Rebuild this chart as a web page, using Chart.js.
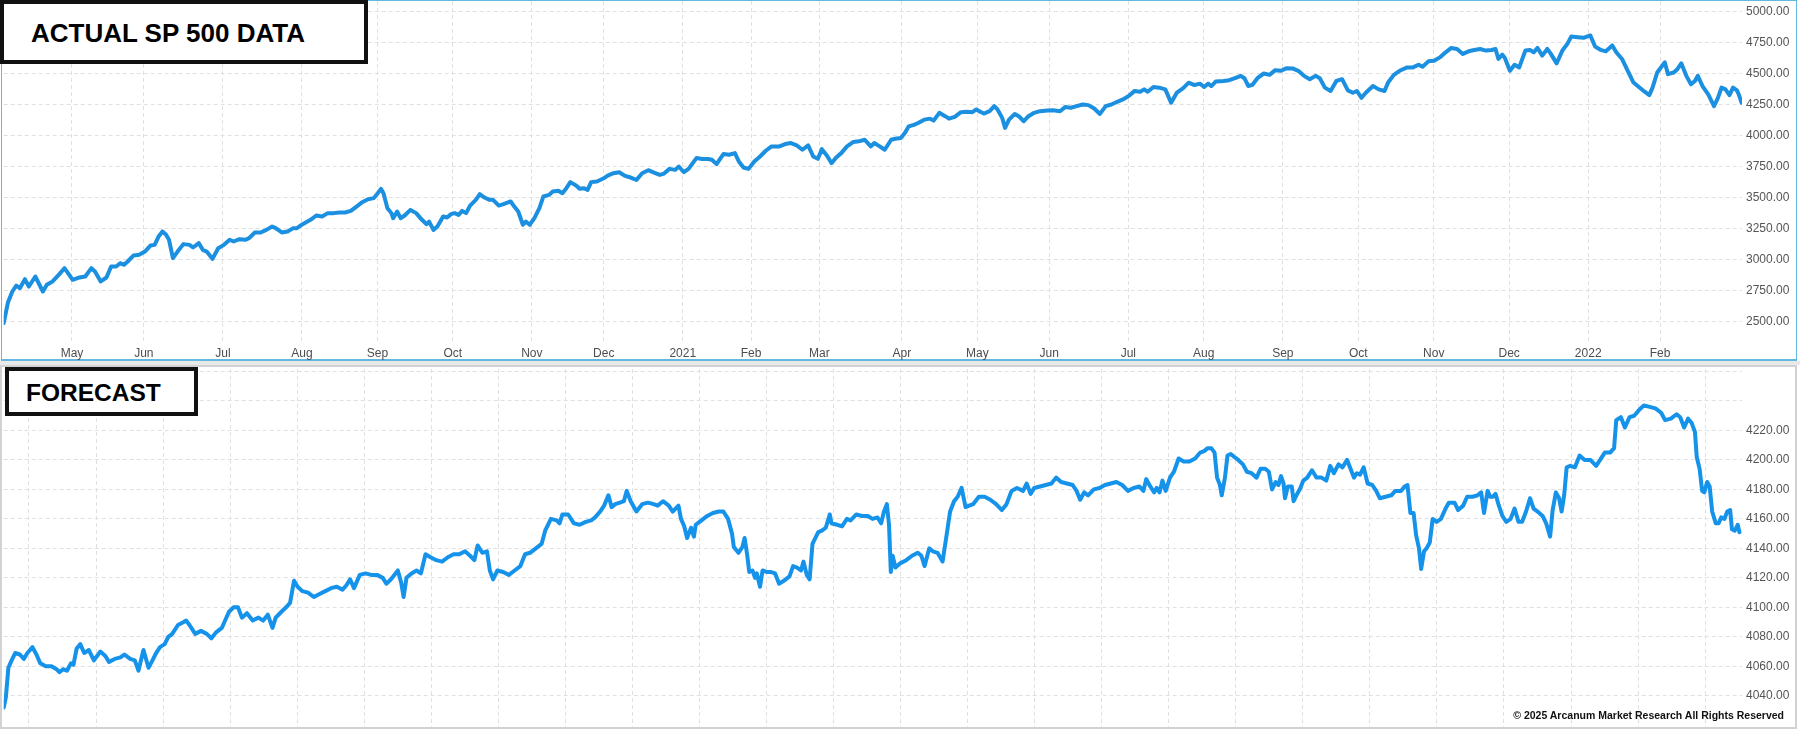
<!DOCTYPE html>
<html>
<head>
<meta charset="utf-8">
<script src="https://cdn.jsdelivr.net/npm/chart.js@4.4.1/dist/chart.umd.min.js"></script>
<style>
html,body{margin:0;padding:0;background:#fff;}
#wrap{position:relative;width:1800px;height:733px;overflow:hidden;background:#fff;font-family:"Liberation Sans",Arial,sans-serif;}
.frameTop{position:absolute;left:1px;top:0;width:1796px;height:361px;box-sizing:border-box;border:1.5px solid #62b8e0;border-bottom-width:2px;}
.gap{position:absolute;left:0;top:361px;width:1800px;height:4px;background:#e9e9e9;}
.frameBot{position:absolute;left:0;top:365px;width:1797px;height:364px;box-sizing:border-box;border:2px solid #d2d2d2;}
canvas{position:absolute;left:0;}
#cTop{top:0;}
#cBot{top:367px;}
.box{position:absolute;box-sizing:border-box;border:4px solid #111;background:#fff;}
.box span{position:absolute;font-weight:bold;color:#000;white-space:nowrap;line-height:1;}
#copy{position:absolute;right:16px;top:710px;font-weight:bold;font-size:10.5px;line-height:1;color:#111;white-space:nowrap;}
</style>
</head>
<body>
<div id="wrap">
  <div class="frameTop"></div>
  <div class="gap"></div>
  <div class="frameBot"></div>
  <canvas id="cTop" width="1800" height="360"></canvas>
  <canvas id="cBot" width="1800" height="362"></canvas>
  <div class="box" style="left:0;top:0;width:368px;height:64px;"><span style="left:27px;top:16px;font-size:26px;">ACTUAL SP 500 DATA</span></div>
  <div class="box" style="left:4.5px;top:366.5px;width:193px;height:49px;"><span style="left:17.5px;top:10.5px;font-size:24.5px;">FORECAST</span></div>
  <div id="copy">© 2025 Arcanum Market Research All Rights Reserved</div>
</div>
<script>
// ---------- DATA ----------
// x = trading-day index (0 = first bar of the chart)
const monthTickDays = [19,39,61,83,104,125,147,167,189,208,227,250,271,291,313,334,356,377,398,419,441,461];
const monthLabels = ['May','Jun','Jul','Aug','Sep','Oct','Nov','Dec','2021','Feb','Mar','Apr','May','Jun','Jul','Aug','Sep','Oct','Nov','Dec','2022','Feb'];
const actualYTicks = [2500,2750,3000,3250,3500,3750,4000,4250,4500,4750,5000];
const forecastYTicks = [4040,4060,4080,4100,4120,4140,4160,4180,4200,4220,4240,4260];

const actualDays = [
0,1.2,2.4,3.5,4.5,5.9,7.0,8.8,10.9,12.0,
13.6,15.3,16.9,17.9,19.2,21.1,22.7,24.4,25.4,27.0,
28.6,29.9,31.3,32.4,33.5,34.5,36.1,37.7,39.3,40.9,
42.0,43.1,44.2,45.2,46.0,47.1,48.4,50.0,51.7,52.7,
54.3,55.4,56.5,58.1,59.7,61.3,62.9,64.0,65.6,67.2,
68.3,69.9,71.5,73.1,74.7,75.7,77.4,79.0,80.6,81.6,
83.2,85.4,87.0,88.6,90.2,91.8,93.4,95.0,96.6,98.2,
99.8,101.4,103.0,104.1,105.0,105.7,106.8,107.9,108.4,109.5,
110.5,111.6,113.2,114.8,116.4,117.7,118.4,119.6,120.7,122.3,
123.4,124.5,125.5,126.6,127.6,128.7,129.8,131.4,132.5,133.8,
135.2,136.2,137.8,139.1,141.1,142.1,143.2,144.5,145.3,146.4,
147.7,149.1,150.2,151.8,152.8,154.4,155.5,156.6,157.7,159.3,
160.3,161.4,162.5,163.5,165.1,
167,168.1,169.7,171.3,172.9,174.5,176.1,177.7,179.4,181.0,
182.6,183.6,185.3,186.9,187.9,189.3,190.6,192.8,194.4,196.0,
197.1,198.4,200.3,201.9,203.5,204.6,205.9,207.3,208.9,210.5,
212.1,213.7,215.9,217.5,219.1,220.7,222.3,223.9,225.3,226.6,
227.7,229.1,230.4,231.7,233.1,234.7,236.4,238.0,239.6,241.3,
242.3,243.8,245.2,247.0,248.1,249.7,250.8,251.9,253.5,254.5,
256.2,257.8,258.8,260.4,262.0,263.1,264.7,266.4,268.0,269.6,
270.7,271.8,272.8,274.4,275.7,276.6,277.9,278.7,279.8,281.4,
282.5,283.9,285.2,286.8,288.4,290.5,292.1,294.0,295.4,297.0,
298.6,300.3,301.9,303.5,305.1,306.7,308.3,309.9,311.5,313.1,
314.7,316.3,317.4,318.4,320.0,321.6,323.3,324.9,326.5,328.2,
329.8,331.4,333.0,
334.1,335.2,336.1,337.3,339.5,341.1,342.7,344.3,345.3,346.4,
347.5,349.1,350.7,352.3,353.9,355.5,357.1,358.7,360.3,361.9,
363.5,365.1,366.3,367.7,369.3,370.9,372.5,374.1,375.5,376.6,
377.9,379.1,381.1,382.7,384.3,385.3,386.9,388.5,390.6,392.2,
393.8,394.9,396.5,398.1,399.7,401.3,402.9,404.5,406.1,407.7,
409.3,410.9,412.5,414.1,415.2,416.0,417.1,417.8,419.2,420.5,
421.8,423.5,424.8,425.8,426.9,428.2,429.6,430.6,432.2,433.8,
435.2,436.3,438.1,439.7,440.8,441.6,442.9,444.5,445.9,447.7,
448.8,450.4,452.0,453.6,455.1,456.7,458.0,458.9,460.2,461.6,
462.3,463.2,464.8,465.8,466.9,468.3,469.6,470.7,471.5,472.8,
474.4,476.0,477.1,478.1,479.2,480.3,481.3,482.4,482.9,483.7
];
const actualValues = [
2488,2656,2742,2790,2769,2841,2782,2863,2742,2796,
2823,2876,2930,2890,2836,2855,2863,2930,2903,2823,
2855,2944,2944,2970,2957,2984,3032,3038,3064,3113,
3118,3185,3226,3199,3159,3011,3064,3124,3118,3097,
3132,3078,3064,3005,3091,3118,3159,3145,3164,3159,
3172,3218,3218,3239,3266,3253,3218,3226,3253,3253,
3285,3320,3355,3347,3374,3374,3379,3379,3392,3427,
3462,3486,3495,3535,3570,3535,3414,3374,3333,3387,
3333,3355,3400,3374,3320,3285,3306,3239,3266,3347,
3339,3366,3374,3360,3392,3374,3435,3481,3527,3500,
3481,3481,3435,3446,3468,3427,3387,3280,3306,3280,
3333,3414,3508,3521,3548,3554,3535,3575,3624,3597,
3570,3575,3562,3624,3629,
3655,3677,3696,3704,3674,3661,3642,3696,3720,3701,
3682,3690,3731,3723,3750,3704,3731,3818,3810,3810,
3804,3769,3850,3845,3858,3791,3742,3731,3791,3831,
3877,3912,3912,3931,3939,3920,3885,3920,3831,3812,
3890,3839,3777,3823,3858,3912,3947,3953,3966,3912,
3939,3912,3885,3966,3974,3980,4020,4074,4088,4101,
4128,4136,4120,4183,4156,4136,4150,4188,4191,4188,
4210,4191,4177,4196,4237,4210,4142,4061,4128,4174,
4156,4115,4156,4183,4196,4201,4204,4196,4229,4224,
4237,4250,4245,4218,4174,4237,4250,4272,4291,4318,
4358,4353,4372,4353,4391,4386,4372,4264,4345,4380,
4426,4407,4418,
4391,4418,4399,4435,4440,4446,4462,4481,4462,4399,
4408,4467,4500,4489,4527,4522,4543,4541,4522,4481,
4454,4481,4462,4386,4359,4440,4454,4364,4345,4359,
4304,4345,4399,4372,4359,4427,4489,4522,4549,4549,
4571,4554,4598,4603,4630,4671,4706,4698,4658,4679,
4690,4698,4685,4690,4698,4617,4652,4625,4522,4571,
4549,4685,4690,4671,4706,4644,4698,4658,4582,4685,
4739,4799,4793,4788,4799,4807,4717,4690,4679,4726,
4671,4617,4522,4427,4391,4353,4326,4386,4508,4562,
4590,4495,4508,4535,4582,4481,4413,4440,4481,4399,
4331,4236,4304,4386,4372,4326,4386,4364,4331,4264
];

const forecastDays = [
0,0.6,1.3,2.2,3.2,4.5,5.6,6.6,8.0,9.1,
10.2,11.7,13.3,14.7,15.5,16.5,17.6,18.7,19.4,20.3,
21.3,22.4,23.7,25.1,26.9,28.3,29.3,30.9,32.5,33.6,
35.2,36.5,37.5,38.9,40.3,41.4,42.4,43.5,44.8,45.8,
46.9,48.5,50.1,50.8,51.7,53.3,54.9,56.5,57.8,59.1,
60.7,62.7,64.0,65.2,66.3,67.7,69.3,70.9,72.2,73.5,
74.8,75.7,77.3,78.6,79.7,80.8,81.8,83.1,84.7,86.3,
87.9,89.5,91.1,92.7,94.3,95.4,96.4,97.5,99.1,100.7,
102.3,103.9,105.5,106.5,107.8,109.7,110.6,111.3,112.1,113.5,
114.9,116.1,117.4,118.8,120.4,122.0,123.6,125.2,126.8,128.4,
129.8,131.0,131.9,133.2,134.5,135.3,136.2,137.4,139.0,140.6,
142.2,143.8,145.1,146.5,148.1,149.7,150.7,152.3,153.9,154.7,
155.5,157.1,158.7,160.3,162.0,163.5,164.6,
166.0,167.1,168.3,169.2,170.2,171.5,172.6,173.4,174.5,176.1,
177.7,179.3,180.9,182.0,183.5,185.1,186.2,187.8,188.5,189.4,
190.2,191.3,192.1,192.6,194.2,195.8,197.4,199.0,200.3,201.6,
202.7,203.2,204.5,205.6,206.2,206.9,207.5,208.4,209.1,209.6,
210.5,211.2,212.3,213.4,214.7,215.8,217.1,218.7,219.7,220.8,
221.9,222.6,223.5,224.3,225.1,226.7,227.7,228.8,229.9,230.4,
232.0,233.3,234.7,235.7,237.3,238.9,240.5,241.8,243.2,244.2,
245.0,245.8,246.4,246.9,247.4,248.2,249.6,251.2,252.8,254.4,
255.4,256.3,257.6,258.6,259.9,261.3,262.3,263.4,264.5,265.5,
266.6,267.7,268.7,269.8,271.4,273.0,274.6,276.2,277.8,279.1,
280.5,282.0,283.7,284.7,285.8,286.8,288.4,290.0,291.6,292.9,
294.3,295.9,297.5,298.6,299.6,300.7,301.8,303.4,305.0,306.5,
308.1,309.7,311.3,312.9,314.5,316.1,317.2,318.0,319.1,320.2,
320.9,321.7,322.5,323.4,324.6,325.7,327.0,328.4,330.0,331.6,
333.0,334.1,335.1,336.1,337.0,337.7,338.5,339.0,339.9,340.6,
341.5,342.5,343.6,344.9,346.0,347.3,348.7,349.8,351.1,352.1,
353.0,354.0,354.8,355.5,356.2,356.6,357.4,358.5,359.0,359.8,
360.9,361.7,362.8,364.1,365.4,366.8,368.1,369.2,370.2,371.5,
372.6,373.9,375.0,375.8,376.6,377.5,378.5,379.6,380.9,382.0,
383.0,384.6,386.2,387.3,388.9,389.9,390.7,391.5,392.4,393.1,
393.9,394.5,395.3,396.0,396.9,397.7,398.8,400.0,401.3,402.2,
403.8,404.8,406.2,407.3,408.8,410.2,411.2,412.0,413.0,413.7,
414.4,415.2,416.0,417.1,418.2,419.4,420.5,421.6,422.6,423.7,
424.8,425.8,426.9,428.3,429.3,430.4,431.1,432.0,432.9,433.6,
434.3,435.0,436.0,437.3,438.6,440.0,441.6,443.2,444.3,445.6,
447.1,448.2,448.8,450.1,451.2,452.5,453.8,455.2,456.5,458.1,
459.7,461.3,462.4,464.0,465.6,466.6,467.7,468.8,469.8,470.7,
471.2,472.0,472.7,473.3,474.1,474.8,475.5,476.5,477.3,478.0,
478.9,479.7,480.5,481.0,481.8,482.6,483.1
];
const forecastValues = [
4032,4039,4059,4064,4069,4068,4065,4069,4073,4068,
4062,4060,4060,4058,4056,4058,4057,4062,4061,4072,
4075,4069,4071,4064,4070,4067,4063,4065,4066,4068,
4065,4064,4057,4071,4059,4064,4069,4073,4075,4080,
4082,4088,4090,4091,4088,4082,4084,4082,4079,4083,
4086,4097,4100,4100,4093,4096,4091,4093,4091,4095,
4086,4093,4097,4100,4103,4118,4114,4111,4110,4107,
4109,4111,4113,4114,4112,4115,4119,4113,4122,4123,
4122,4122,4120,4116,4119,4125,4117,4107,4120,4123,
4125,4123,4136,4134,4132,4131,4134,4136,4136,4138,
4135,4132,4142,4137,4138,4125,4119,4125,4124,4122,
4125,4128,4136,4137,4140,4143,4152,4160,4159,4157,
4163,4163,4157,4156,4158,4159,4161,
4165,4169,4176,4168,4170,4171,4172,4179,4172,4165,
4170,4171,4170,4169,4172,4169,4165,4169,4160,4155,
4147,4154,4148,4156,4159,4162,4164,4165,4165,4160,
4150,4141,4137,4141,4147,4136,4124,4125,4120,4123,
4114,4125,4124,4124,4123,4116,4118,4121,4128,4127,
4125,4131,4122,4119,4143,4151,4152,4154,4163,4157,
4156,4155,4160,4159,4163,4162,4162,4160,4161,4157,
4165,4170,4156,4124,4135,4127,4130,4132,4135,4137,
4135,4128,4140,4138,4137,4131,4147,4165,4172,4175,
4181,4168,4169,4170,4175,4175,4173,4170,4166,4170,
4179,4181,4179,4184,4177,4181,4182,4183,4184,4188,
4185,4184,4183,4179,4173,4178,4176,4180,4181,4183,
4184,4185,4183,4179,4181,4182,4179,4187,4182,4178,
4181,4178,4186,4179,4188,4192,4201,4199,4199,4201,
4205,4206,4208,4208,4205,4188,4183,4176,4188,4203,
4204,4202,4200,4197,4192,4191,4188,4194,4194,4192,
4180,4185,4183,4189,4184,4174,4182,4182,4172,4176,
4181,4186,4188,4193,4188,4188,4186,4196,4191,4197,
4195,4200,4193,4188,4191,4190,4195,4184,4183,4179,
4174,4175,4176,4179,4179,4182,4183,4164,4164,4149,
4140,4126,4138,4140,4144,4160,4158,4160,4167,4171,
4171,4166,4169,4175,4175,4176,4178,4164,4179,4175,
4175,4177,4170,4162,4158,4160,4167,4158,4158,4165,
4174,4167,4165,4162,4157,4148,4166,4178,4174,4165,
4176,4195,4196,4195,4203,4200,4200,4196,4200,4205,
4205,4208,4227,4229,4222,4229,4230,4234,4237,4236,
4235,4232,4227,4228,4231,4229,4222,4228,4225,4219,
4202,4194,4179,4178,4185,4182,4165,4157,4157,4161,
4160,4165,4166,4153,4152,4156,4151
];

// forecast panel: evenly spaced vertical grid (no labels)
const forecastGridStart = 7.04;
const forecastGridStep = 18.66;
const forecastGridCount = 26;

// ---------- CHARTS ----------
Chart.defaults.font.family = '"Liberation Sans", Arial, sans-serif';
const GRID = '#e0e0e0';

function toPoints(days, vals) {
  const n = Math.min(days.length, vals.length);
  const out = [];
  for (let i = 0; i < n; i++) out.push({x: days[i], y: vals[i]});
  return out;
}

function build(canvasId, points, color, yMin, yMax, yTicks, yLabel, xTicks, xLabel, showX, xHeight, pad) {
  return new Chart(document.getElementById(canvasId), {
    type: 'line',
    data: { datasets: [{
      data: points,
      borderColor: color,
      borderWidth: 4,
      pointRadius: 0,
      tension: 0,
      borderJoinStyle: 'round',
      borderCapStyle: 'round',
      fill: false
    }]},
    options: {
      responsive: false,
      animation: false,
      devicePixelRatio: 1,
      layout: { padding: pad },
      plugins: { legend: {display: false}, tooltip: {enabled: false}, title: {display: false} },
      scales: {
        x: {
          type: 'linear', min: 0, max: 483.8, offset: false,
          afterBuildTicks: s => { s.ticks = xTicks.map(v => ({value: v})); },
          afterFit: s => { s.height = xHeight; s.paddingLeft = 0; s.paddingRight = 0; },
          grid: { color: GRID, lineWidth: 1, drawTicks: false },
          border: { display: false, dash: [4, 3] },
          ticks: {
            display: showX, autoSkip: false, maxRotation: 0, minRotation: 0, padding: 4,
            color: '#4d4d4d', font: {size: 12},
            callback: (v, i) => xLabel(v, i)
          }
        },
        y: {
          type: 'linear', position: 'right', min: yMin, max: yMax,
          afterBuildTicks: s => { s.ticks = yTicks.map(v => ({value: v})); },
          afterFit: s => { s.width = 56; s.paddingTop = 0; s.paddingBottom = 0; },
          grid: { color: GRID, lineWidth: 1, drawTicks: false },
          border: { display: false, dash: [4, 3] },
          ticks: {
            padding: 4, color: '#555', font: {size: 12},
            callback: v => yLabel(v)
          }
        }
      }
    }
  });
}

build('cTop', toPoints(actualDays, actualValues), '#1b8fe0',
  2334.7, 5084.7, actualYTicks, v => Number(v).toFixed(2),
  monthTickDays, (v, i) => monthLabels[i], true, 18,
  {left: 3.7, right: 2, top: 1, bottom: 0});

const forecastGrid = [];
for (let k = 0; k < forecastGridCount; k++) forecastGrid.push(forecastGridStart + k * forecastGridStep);

build('cBot', toPoints(forecastDays, forecastValues), '#1592ea',
  4018.8, 4261.7, forecastYTicks, v => (v <= 4220 ? Number(v).toFixed(2) : ''),
  forecastGrid, () => '', false, 0,
  {left: 3.7, right: 2, top: 2, bottom: 2});
</script>
</body>
</html>
